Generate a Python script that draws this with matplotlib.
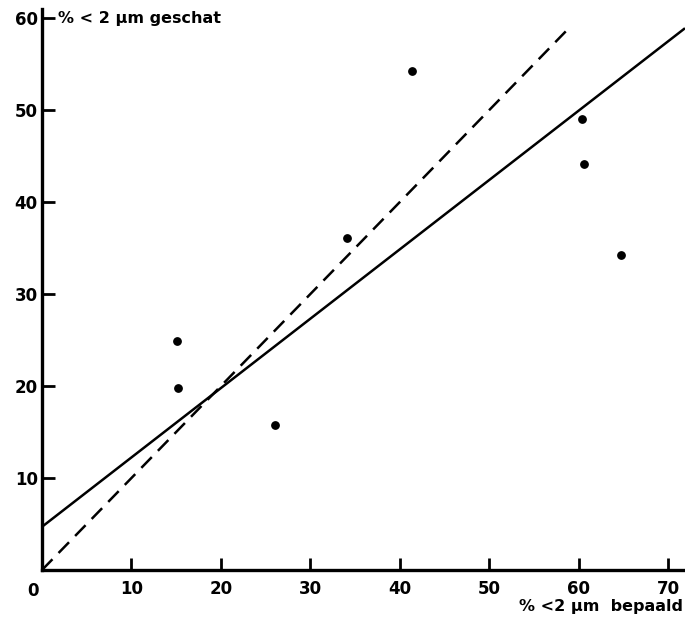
import matplotlib
matplotlib.use("Agg")
import matplotlib.pyplot as plt
import numpy as np

# Data
bepaald = [15.1, 15.2, 26.1, 34.1, 41.4, 60.4, 60.6, 64.7]
geschat = [24.9, 19.8, 15.8, 36.1, 54.3, 49.0, 44.1, 34.2]

# regression line (solid) and 1:1 line (dashed)
reg_intercept = 4.7
reg_slope = 0.754
reg_x = [0, 71.9]
one_x = [0, 58.6]

x_ticks = [10, 20, 30, 40, 50, 60, 70]
y_ticks = [10, 20, 30, 40, 50, 60]

fig = plt.figure(figsize=(6.85, 6.21), dpi=100)
ax = fig.add_axes([0.0613, 0.0821, 0.9387, 0.9034])
ax.set_xlim(0, 71.9)
ax.set_ylim(0, 61)

ax.scatter(bepaald, geschat, s=28, color="black", zorder=3)
rx = np.array(reg_x)
ax.plot(rx, reg_intercept + reg_slope * rx, color="black", lw=1.8, solid_capstyle="butt")
ox = np.array(one_x)
ax.plot(ox, ox, color="black", lw=1.8, dashes=(6, 3.5))

for s in ["top", "right"]:
    ax.spines[s].set_visible(False)
for s in ["left", "bottom"]:
    ax.spines[s].set_linewidth(2.4)

ax.set_xticks(x_ticks)
ax.set_yticks(y_ticks)
ax.tick_params(axis="both", direction="in", length=9, width=2, labelsize=12, pad=7)
ax.tick_params(axis="y", pad=3)
for lab in ax.get_xticklabels() + ax.get_yticklabels():
    lab.set_fontweight("bold")
# origin label
ax.text(-1.0, -1.3, "0", ha="center", va="top", fontsize=12, fontweight="bold")

fig.text(58 / 685, 1 - 18 / 621, "% < 2 µm geschat", ha="left", va="center",
         fontsize=11.5, fontweight="bold")
fig.text(683 / 685, 1 - 607 / 621, "% <2 µm  bepaald", ha="right", va="center",
         fontsize=11.5, fontweight="bold")

fig.savefig("out.png", dpi=100)
